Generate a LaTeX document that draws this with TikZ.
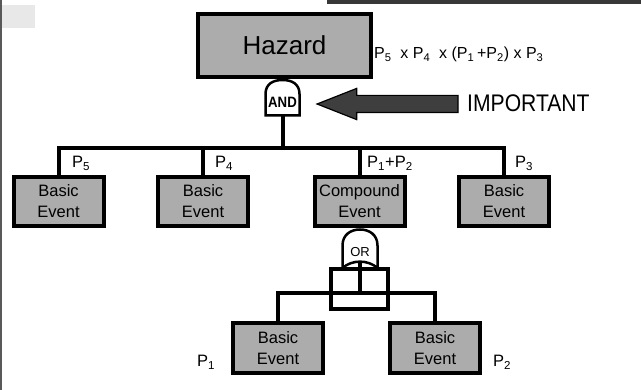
\documentclass[tikz,border=0pt]{standalone}
\usepackage{fontspec}
\setmainfont{Liberation Sans}
\newfontfamily\narrowsans{Liberation Sans}[FakeStretch=0.88]
\usetikzlibrary{shapes.arrows,calc}
\definecolor{boxgray}{RGB}{172,172,172}
\definecolor{arrowgray}{RGB}{62,62,62}
\tikzset{
	topbox/.style={rectangle, draw=black, line width=4pt, fill=boxgray,
		minimum width=173pt, minimum height=63pt, font=\fontsize{26}{30}\selectfont},
	eventbox/.style={rectangle, draw=black, line width=4pt, fill=boxgray,
		minimum width=90pt, minimum height=49.5pt, align=center, inner sep=2pt,
		font=\fontsize{16.5}{21}\selectfont},
	plabel/.style={anchor=base west, inner sep=0pt, font=\fontsize{16.5}{20}\selectfont},
	gateline/.style={draw=black, line width=2.5pt, fill=white},
	treeline/.style={line width=4pt},
	bigarrow/.style={single arrow, draw=black, line width=1.2pt, fill=arrowgray,
		shape border rotate=180, inner xsep=0pt, inner ysep=8pt,
		single arrow head extend=7pt, single arrow tip angle=43, minimum height=141pt}
}

\begin{document}
\begin{tikzpicture}[x=1pt, y=-1pt]
	\useasboundingbox (0,0) rectangle (641,390);
	% screenshot edges
	\fill[black!65] (0,0) rectangle (2,390);
	\fill[black!9] (2,5) rectangle (35,28);
	\fill[black!78] (327,0) rectangle (641,4);

	% top event
	\node[topbox] (haz) at (284.5,45.5) {Hazard};
	\node[anchor=base west, inner sep=0pt, font=\fontsize{16}{20}\selectfont] (formula) at (374,59)
		{P\textsubscript{5}~~x P\textsubscript{4}~~x (P\textsubscript{1}\,+P\textsubscript{2}) x P\textsubscript{3}};

	% AND gate
	\begin{scope}[shift={(282.5,80)}]
		\path[gateline] (-17,35.5) -- (-17,14) .. controls (-17,4) and (-9.5,0) .. (0,0)
			.. controls (9.5,0) and (17,4) .. (17,14) -- (17,35.5) -- cycle;
	\end{scope}
	\node[inner sep=0pt, font=\narrowsans\bfseries\fontsize{15}{17}\selectfont] (andg) at (282.5,102) {AND};
	\coordinate (andout) at (282.5,115.5);

	% pointer
	\node[bigarrow] (imparrow) at (398.5,104) {};
	\node[anchor=west, inner sep=0pt, font=\narrowsans\fontsize{24}{28}\selectfont] (imp) at (467,103) {IMPORTANT};

	% first level
	\node[eventbox] (ev1) at (58.5,201.5) {Basic\\Event};
	\node[eventbox] (ev2) at (203,201.5) {Basic\\Event};
	\node[eventbox] (ev3) at (359.5,201.5) {Compound\\Event};
	\node[eventbox] (ev4) at (504,201.5) {Basic\\Event};
	\coordinate (bus) at (282.5,148);
	\draw[treeline] (andout) -- (bus);
	\draw[treeline] (ev1.north) |- (bus) -| (ev4.north);
	\draw[treeline] (ev2.north) -- (ev2.north |- bus);
	\draw[treeline] (ev3.north) -- (ev3.north |- bus);
	\node[plabel] (p5) at (72,168) {P\textsubscript{5}};
	\node[plabel] (p4) at (215,168) {P\textsubscript{4}};
	\node[plabel] (p12) at (367,168) {P\textsubscript{1}+P\textsubscript{2}};
	\node[plabel] (p3) at (515,168) {P\textsubscript{3}};

	% OR gate
	\begin{scope}[shift={(360,229.5)}]
		\path[gateline] (-17.5,38.5) -- (-17.5,16) .. controls (-17.5,5) and (-9,0) .. (0,0)
			.. controls (9,0) and (17.5,5) .. (17.5,16) -- (17.5,38.5)
			.. controls (8,30) and (-8,30) .. cycle;
	\end{scope}
	\node[inner sep=0pt, font=\fontsize{13}{15}\selectfont] (org) at (360,252) {OR};
	\node[rectangle, draw=black, line width=4pt, minimum width=57pt, minimum height=40pt] (orbox) at (359.5,289) {};
	\coordinate (orarc) at (359.5,262);

	% second level
	\node[eventbox] (b1) at (278,348) {Basic\\Event};
	\node[eventbox] (b2) at (435,348) {Basic\\Event};
	\coordinate (orbus) at (359.5,293);
	\draw[treeline] (orarc) -- (orbus);
	\draw[treeline] (b1.north) |- (orbus) -| (b2.north);
	\node[plabel] (p1) at (197,367) {P\textsubscript{1}};
	\node[plabel] (p2) at (493,367) {P\textsubscript{2}};
\end{tikzpicture}
\end{document}
